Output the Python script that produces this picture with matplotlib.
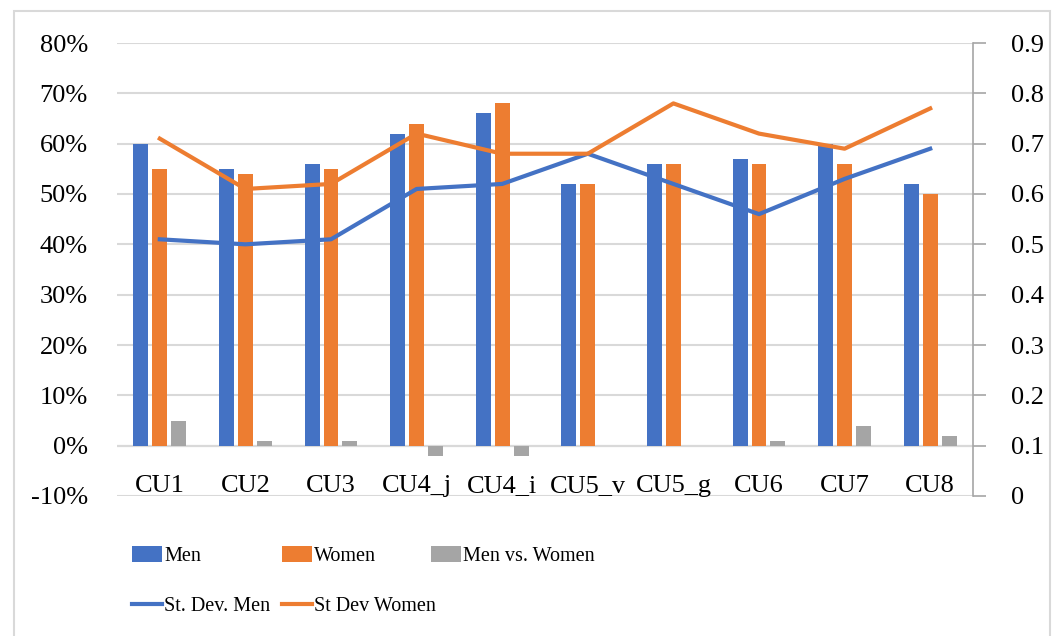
import numpy as np
import matplotlib.pyplot as plt
from matplotlib.patches import Rectangle
from matplotlib.ticker import FuncFormatter

plt.rcParams['font.family'] = ['Liberation Serif', 'DejaVu Serif']

cats = ['CU1', 'CU2', 'CU3', 'CU4_j', 'CU4_i', 'CU5_v', 'CU5_g', 'CU6', 'CU7', 'CU8']
men = [60, 55, 56, 62, 66, 52, 56, 57, 60, 52]
women = [55, 54, 55, 64, 68, 52, 56, 56, 56, 50]
men_vs_women = [5, 1, 1, -2, -2, 0, 0, 1, 4, 2]
sd_men = [0.51, 0.50, 0.51, 0.61, 0.62, 0.68, 0.62, 0.56, 0.63, 0.69]
sd_women = [0.71, 0.61, 0.62, 0.72, 0.68, 0.68, 0.78, 0.72, 0.69, 0.77]

blue = '#4472c4'
orange = '#ed7d31'
gray = '#a5a5a5'
grid_c = '#d9d9d9'

fig = plt.figure(figsize=(10.54, 6.36), dpi=100)
fig.patches.append(Rectangle((14 / 1054, -0.1), (1050 - 14) / 1054, 1.1 - 11 / 636,
                             transform=fig.transFigure, fill=False, edgecolor=grid_c, lw=1.5))
ax = fig.add_axes([117 / 1054, 1 - 496 / 636, (973 - 117) / 1054, (496 - 43) / 636])
x = np.arange(len(cats))
w = 0.175
off = 0.221

b1 = ax.bar(x - off, men, w, color=blue, zorder=3)
b2 = ax.bar(x, women, w, color=orange, zorder=3)
b3 = ax.bar(x + off, men_vs_women, w, color=gray, zorder=3)

ax.set_ylim(-10, 80)
ax.set_xlim(-0.5, len(cats) - 0.5)
ax.set_yticks(range(-10, 81, 10))
ax.yaxis.set_major_formatter(FuncFormatter(lambda v, p: '%d%%' % v))
ax.grid(axis='y', color=grid_c, lw=1.5, zorder=0)
ax.axhline(0, color='#bfbfbf', lw=1.5, zorder=1)
ax.set_xticks([])
for s in ax.spines.values():
    s.set_visible(False)
ax.tick_params(axis='y', length=0, labelsize=19, pad=21, colors='black')
for i, c in enumerate(cats):
    ax.text(i, -8.0, c, ha='center', va='center', fontsize=19)

ax2 = ax.twinx()
l1, = ax2.plot(x, sd_men, color=blue, lw=3, zorder=4)
l2, = ax2.plot(x, sd_women, color=orange, lw=3, zorder=4)
ax2.set_ylim(0, 0.9)
ax2.set_yticks(np.arange(0, 0.91, 0.1))
ax2.yaxis.set_major_formatter(FuncFormatter(lambda v, p: '0' if v < 0.01 else '%.1f' % v))
for s in ['top', 'left', 'bottom']:
    ax2.spines[s].set_visible(False)
ax2.spines['right'].set_color('#a6a6a6')
ax2.spines['right'].set_linewidth(1.2)
ax2.tick_params(axis='y', length=9, width=1.2, color='#a6a6a6', labelsize=19, pad=18)

# legend: three columns placed like the Excel legend
cols = [([b1, l1], ['Men', 'St. Dev. Men'], 132),
        ([b2, l2], ['Women', 'St Dev Women'], 282),
        ([b3], ['Men vs. Women'], 431)]
fs = 14.5
for hs, labs, xp in cols:
    fig.legend(hs, labs, loc='upper left', bbox_to_anchor=(xp / 1054, 1 - 546 / 636),
               frameon=False, fontsize=fs, handlelength=30 / (fs * 100 / 72),
               handleheight=0.85, handletextpad=0.1, labelspacing=1.5,
               borderaxespad=0, borderpad=0)

fig.savefig('out.png', dpi=100)
